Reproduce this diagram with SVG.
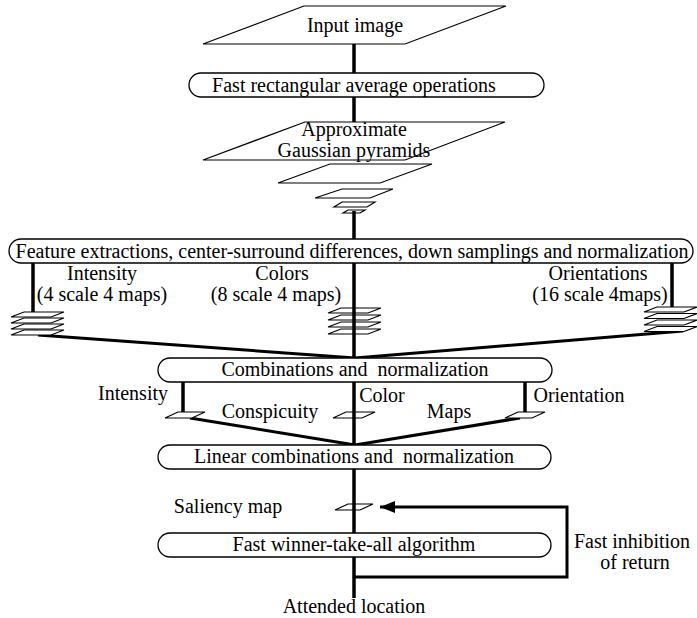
<svg xmlns="http://www.w3.org/2000/svg" width="697" height="618" viewBox="0 0 697 618">
<style>
.t{font-family:"Liberation Serif","Times New Roman",serif;font-size:20px;fill:#000;text-anchor:middle;white-space:pre}
.box{fill:#fff;stroke:#000;stroke-width:1.3}
.pg{fill:none;stroke:#000;stroke-width:1.2}
.pw{fill:#fff;stroke:#000;stroke-width:1.2}
.k{stroke:#000;stroke-width:3.5;fill:none}
.c{stroke:#000;stroke-width:3;fill:none}
</style>
<defs>
<marker id="ah" markerUnits="userSpaceOnUse" markerWidth="16" markerHeight="12" refX="15" refY="6" orient="auto">
<path d="M0,0 L15,6 L0,12 Z" fill="#000"/>
</marker>
<polygon id="sp" points="13,0 53,0 40,5 0,5" class="pw"/>
</defs>
<rect width="697" height="618" fill="#fff"/>

<g id="connectors">
<line class="k" x1="354" y1="44" x2="354" y2="73"/>
<line class="k" x1="354" y1="97" x2="354" y2="122"/>
<line class="k" x1="354" y1="211" x2="354" y2="239"/>
<line class="k" x1="33" y1="263" x2="33" y2="314"/>
<line class="k" x1="672" y1="263" x2="672" y2="309"/>
<line class="c" x1="38" y1="335" x2="355" y2="358"/>
<line class="c" x1="683" y1="331" x2="355" y2="358"/>
<line class="k" x1="183" y1="382" x2="183" y2="414"/>
<line class="k" x1="525" y1="382" x2="525" y2="414"/>
<line class="c" x1="190" y1="418" x2="355" y2="445"/>
<line class="c" x1="520" y1="418" x2="355" y2="445"/>
<line class="k" x1="354" y1="557" x2="354" y2="598"/>
<polyline class="c" points="354,577 567,577 567,507 380,507" marker-end="url(#ah)"/>
</g>

<g id="input-image">
<polygon class="pg" points="304,6 506,6 405,44 203,44"/>
<text class="t" x="355" y="32">Input image</text>
</g>

<g id="fast-rect">
<rect class="box" x="189" y="73" width="355" height="24" rx="12" ry="12"/>
<text class="t" x="354" y="92">Fast rectangular average operations</text>
</g>

<g id="pyramids">
<polygon class="pg" points="305,122 505,122 405,160 203,160"/>
<text class="t" x="354" y="136">Approximate</text>
<text class="t" x="354" y="157">Gaussian pyramids</text>
<polygon class="pg" points="330,164 432,164 380,183 278,183"/>
<polygon class="pg" points="342,189 393,189 370,198 315,198"/>
<polygon class="pg" points="342,202 375,202 367,207 334,207"/>
<polygon class="pg" points="348,210 365,210 360,213 343,213"/>
</g>

<g id="feature">
<rect class="box" x="9" y="239" width="684" height="24" rx="12" ry="12"/>
<text class="t" x="352" y="258">Feature extractions, center-surround differences, down samplings and normalization</text>
</g>

<g id="intensity-maps">
<text class="t" x="102" y="280">Intensity</text>
<text class="t" x="102" y="301">(4 scale 4 maps)</text>
<use href="#sp" x="11" y="312"/>
<use href="#sp" x="11" y="318"/>
<use href="#sp" x="11" y="324"/>
<use href="#sp" x="11" y="330"/>
</g>

<g id="color-maps">
<text class="t" x="282" y="280">Colors</text>
<text class="t" x="276" y="301">(8 scale 4 maps)</text>
<use href="#sp" x="328" y="308"/>
<use href="#sp" x="328" y="315"/>
<use href="#sp" x="328" y="322"/>
<use href="#sp" x="328" y="329"/>
<line class="k" x1="354" y1="263" x2="354" y2="358"/>
</g>

<g id="orientation-maps">
<text class="t" x="598" y="280">Orientations</text>
<text class="t" x="600" y="301">(16 scale 4maps)</text>
<use href="#sp" x="644" y="307"/>
<use href="#sp" x="644" y="313.5"/>
<use href="#sp" x="644" y="320"/>
<use href="#sp" x="644" y="326.5"/>
</g>

<g id="combinations">
<rect class="box" x="158" y="358" width="394" height="24" rx="12" ry="12"/>
<text class="t" x="355" y="376">Combinations and  normalization</text>
</g>

<g id="conspicuity-maps">
<text class="t" x="133" y="400">Intensity</text>
<text class="t" x="270" y="418">Conspicuity</text>
<text class="t" x="382" y="402">Color</text>
<text class="t" x="449" y="418">Maps</text>
<text class="t" x="579" y="402">Orientation</text>
<polygon class="pw" points="178,412 205,412 192,418 165,418"/>
<polygon class="pw" points="346,412 375,412 362,418 333,418"/>
<polygon class="pw" points="518,412 545,412 532,418 505,418"/>
<line class="k" x1="354" y1="382" x2="354" y2="445"/>
</g>

<g id="linear">
<rect class="box" x="158" y="445" width="393" height="24" rx="12" ry="12"/>
<text class="t" x="354" y="463">Linear combinations and  normalization</text>
</g>

<g id="saliency">
<text class="t" x="228" y="513">Saliency map</text>
<polygon class="pw" points="348,504 373,504 360,510 335,510"/>
<line class="k" x1="354" y1="469" x2="354" y2="533"/>
</g>

<g id="wta">
<rect class="box" x="158" y="533" width="393" height="24" rx="12" ry="12"/>
<text class="t" x="354" y="551">Fast winner-take-all algorithm</text>
</g>

<g id="inhibition">
<text class="t" x="632" y="548">Fast inhibition</text>
<text class="t" x="635" y="569">of return</text>
</g>

<g id="attended">
<text class="t" x="354" y="613">Attended location</text>
</g>
</svg>
